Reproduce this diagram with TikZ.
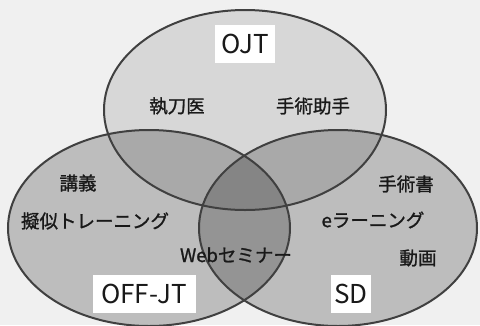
\documentclass[tikz,border=0pt]{standalone}
\usepackage{fontspec}
\setmainfont{Noto Sans CJK JP}
\newfontfamily\jp[FakeBold=1.2]{Noto Sans CJK JP}
\newfontfamily\ttl{Noto Sans CJK JP}
\begin{document}
\begin{tikzpicture}[x=1pt,y=-1pt,
  circfill/.style={fill=black},
  circline/.style={draw=black!75,line width=2pt},
  jptext/.style={font=\jp\fontsize{18.5}{20}\selectfont,text=black!90,inner sep=0pt},
  titlebox/.style={fill=white,font=\ttl\fontsize{26}{28}\selectfont,text=black!90,inner xsep=6pt,minimum height=38pt}
]
\fill[black!6] (0,0) rectangle (480,325);
\useasboundingbox (0,0) rectangle (480,325);
% fills
\fill[circfill,fill opacity=0.10] (245,110) ellipse [x radius=141, y radius=100];
\fill[circfill,fill opacity=0.21] (149,228) ellipse [x radius=141, y radius=98];
\fill[circfill,fill opacity=0.21] (338,228) ellipse [x radius=139, y radius=98];
% outlines
\draw[circline] (245,110) ellipse [x radius=141, y radius=100];
\draw[circline] (149,228) ellipse [x radius=141, y radius=98];
\draw[circline] (338,228) ellipse [x radius=139, y radius=98];
% titles
\node[titlebox] (ojt) at (245,44) {OJT};
\node[titlebox,minimum width=103pt] (offjt) at (144,294) {OFF-JT};
\node[titlebox,minimum width=38pt,inner xsep=3pt] (sd) at (351,294) {SD};
% items
\node[jptext] (shitto) at (177,106) {執刀医};
\node[jptext] (joshu) at (313,106) {手術助手};
\node[jptext] (kogi) at (78,183) {講義};
\node[jptext] (giji) at (95,221) {擬似トレーニング};
\node[jptext] (web) at (236,255) {Webセミナー};
\node[jptext] (sho) at (406,184) {手術書};
\node[jptext] (elearn) at (373,220) {eラーニング};
\node[jptext] (doga) at (418,258) {動画};
\end{tikzpicture}
\end{document}
